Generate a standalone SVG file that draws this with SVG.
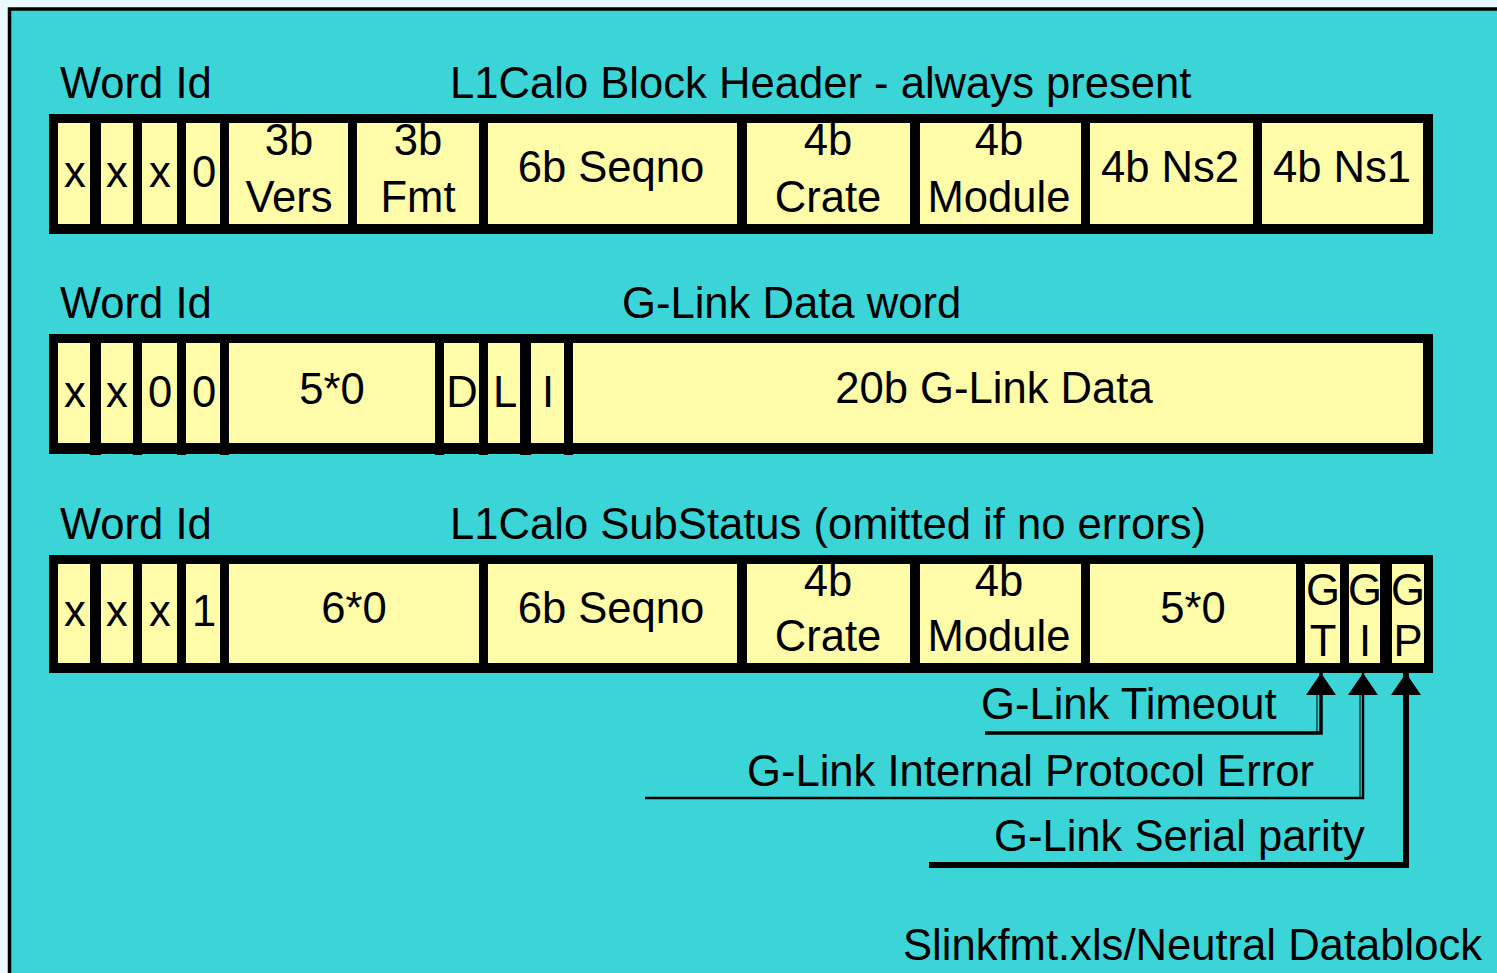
<svg xmlns="http://www.w3.org/2000/svg" width="1497" height="973" viewBox="0 0 1497 973">
<style>
text{font-family:"Liberation Sans",Arial,sans-serif;font-size:43.6px;fill:#000}
.c{text-anchor:middle}
.bar{fill:#000}
.cell{fill:#fffca9}
.ln{fill:none;stroke:#000}
</style>
<defs>
<marker id="ah" markerUnits="userSpaceOnUse" markerWidth="22" markerHeight="30" viewBox="0 0 22 30" refX="22" refY="15" orient="auto">
<path d="M0,0 L22,15 L0,30 z" fill="#000"/>
</marker>
</defs>
<rect x="0" y="0" width="1497" height="973" fill="#eaf9fd"/>
<rect x="9.5" y="9" width="1500" height="980" fill="#3bd4d7" stroke="#000" stroke-width="3.5"/>

<g id="header">
<text x="60" y="98">Word Id</text>
<text x="450" y="98">L1Calo Block Header - always present</text>
<rect class="bar" x="49" y="114" width="1384" height="120"/>
<rect class="cell" x="58" y="123" width="32" height="101"/>
<rect class="cell" x="101" y="123" width="32" height="101"/>
<rect class="cell" x="142" y="123" width="35" height="101"/>
<rect class="cell" x="186" y="123" width="34" height="101"/>
<rect class="cell" x="229" y="123" width="119" height="101"/>
<rect class="cell" x="357" y="123" width="122" height="101"/>
<rect class="cell" x="488" y="123" width="249" height="101"/>
<rect class="cell" x="747" y="123" width="163" height="101"/>
<rect class="cell" x="920" y="123" width="161" height="101"/>
<rect class="cell" x="1090" y="123" width="163" height="101"/>
<rect class="cell" x="1262" y="123" width="161" height="101"/>
<text class="c" x="75" y="187">x</text>
<text class="c" x="117" y="187">x</text>
<text class="c" x="160" y="187">x</text>
<text class="c" x="204" y="187">0</text>
<text class="c" x="289" y="155">3b</text>
<text class="c" x="289" y="212">Vers</text>
<text class="c" x="418" y="155">3b</text>
<text class="c" x="418" y="212">Fmt</text>
<text class="c" x="611" y="182">6b Seqno</text>
<text class="c" x="828" y="155">4b</text>
<text class="c" x="828" y="212">Crate</text>
<text class="c" x="999" y="155">4b</text>
<text class="c" x="999" y="212">Module</text>
<text class="c" x="1170" y="182">4b Ns2</text>
<text class="c" x="1342" y="182">4b Ns1</text>
</g>

<g id="glink-data">
<text x="60" y="318">Word Id</text>
<text x="622" y="318">G-Link Data word</text>
<rect class="bar" x="49" y="334" width="1384" height="120"/>
<rect class="bar" x="90" y="450" width="11" height="5"/>
<rect class="bar" x="133" y="450" width="9" height="5"/>
<rect class="bar" x="177" y="450" width="9" height="5"/>
<rect class="bar" x="220" y="450" width="9" height="5"/>
<rect class="bar" x="435" y="450" width="9" height="5"/>
<rect class="bar" x="479" y="450" width="9" height="5"/>
<rect class="bar" x="520" y="450" width="11" height="5"/>
<rect class="bar" x="564" y="450" width="9" height="5"/>
<rect class="cell" x="58" y="343" width="32" height="100"/>
<rect class="cell" x="101" y="343" width="32" height="100"/>
<rect class="cell" x="142" y="343" width="35" height="100"/>
<rect class="cell" x="186" y="343" width="34" height="100"/>
<rect class="cell" x="229" y="343" width="206" height="100"/>
<rect class="cell" x="444" y="343" width="35" height="100"/>
<rect class="cell" x="488" y="343" width="32" height="100"/>
<rect class="cell" x="531" y="343" width="33" height="100"/>
<rect class="cell" x="573" y="343" width="850" height="100"/>
<text class="c" x="75" y="407">x</text>
<text class="c" x="117" y="407">x</text>
<text class="c" x="160" y="407">0</text>
<text class="c" x="204" y="407">0</text>
<text class="c" x="332" y="404">5*0</text>
<text class="c" x="462" y="407">D</text>
<text class="c" x="505" y="407">L</text>
<text class="c" x="548" y="407">I</text>
<text class="c" x="994" y="403">20b G-Link Data</text>
</g>

<g id="substatus">
<text x="60" y="539">Word Id</text>
<text x="450" y="539">L1Calo SubStatus (omitted if no errors)</text>
<rect class="bar" x="49" y="555" width="1384" height="118"/>
<rect class="cell" x="58" y="564" width="32" height="99"/>
<rect class="cell" x="101" y="564" width="32" height="99"/>
<rect class="cell" x="142" y="564" width="35" height="99"/>
<rect class="cell" x="186" y="564" width="34" height="99"/>
<rect class="cell" x="229" y="564" width="250" height="99"/>
<rect class="cell" x="488" y="564" width="249" height="99"/>
<rect class="cell" x="747" y="564" width="163" height="99"/>
<rect class="cell" x="920" y="564" width="161" height="99"/>
<rect class="cell" x="1090" y="564" width="206" height="99"/>
<rect class="cell" x="1305" y="564" width="35" height="99"/>
<rect class="cell" x="1349" y="564" width="31" height="99"/>
<rect class="cell" x="1392" y="564" width="32" height="99"/>
<text class="c" x="75" y="626">x</text>
<text class="c" x="117" y="626">x</text>
<text class="c" x="160" y="626">x</text>
<text class="c" x="204" y="626">1</text>
<text class="c" x="354" y="623">6*0</text>
<text class="c" x="611" y="623">6b Seqno</text>
<text class="c" x="828" y="596">4b</text>
<text class="c" x="828" y="651">Crate</text>
<text class="c" x="999" y="596">4b</text>
<text class="c" x="999" y="651">Module</text>
<text class="c" x="1193" y="623">5*0</text>
<text class="c" x="1323" y="605">G</text>
<text class="c" x="1323" y="656">T</text>
<text class="c" x="1365" y="605">G</text>
<text class="c" x="1365" y="656">I</text>
<text class="c" x="1408" y="605">G</text>
<text class="c" x="1408" y="656">P</text>
</g>

<g id="connectors">
<path class="ln" d="M985,733 H1321 V673" stroke-width="3.5" marker-end="url(#ah)"/>
<path class="ln" d="M1317,733 V692" stroke-width="1"/>
<path class="ln" d="M645,798 H1363 V673" stroke-width="2.5" marker-end="url(#ah)"/>
<path class="ln" d="M1360,798 V692" stroke-width="1"/>
<path class="ln" d="M929,865 H1406 V673" stroke-width="6" marker-end="url(#ah)"/>
</g>

<g id="labels">
<text x="981" y="719">G-Link Timeout</text>
<text x="747" y="786">G-Link Internal Protocol Error</text>
<text x="994" y="851">G-Link Serial parity</text>
<text x="1482" y="960" text-anchor="end">Slinkfmt.xls/Neutral Datablock</text>
</g>
</svg>
